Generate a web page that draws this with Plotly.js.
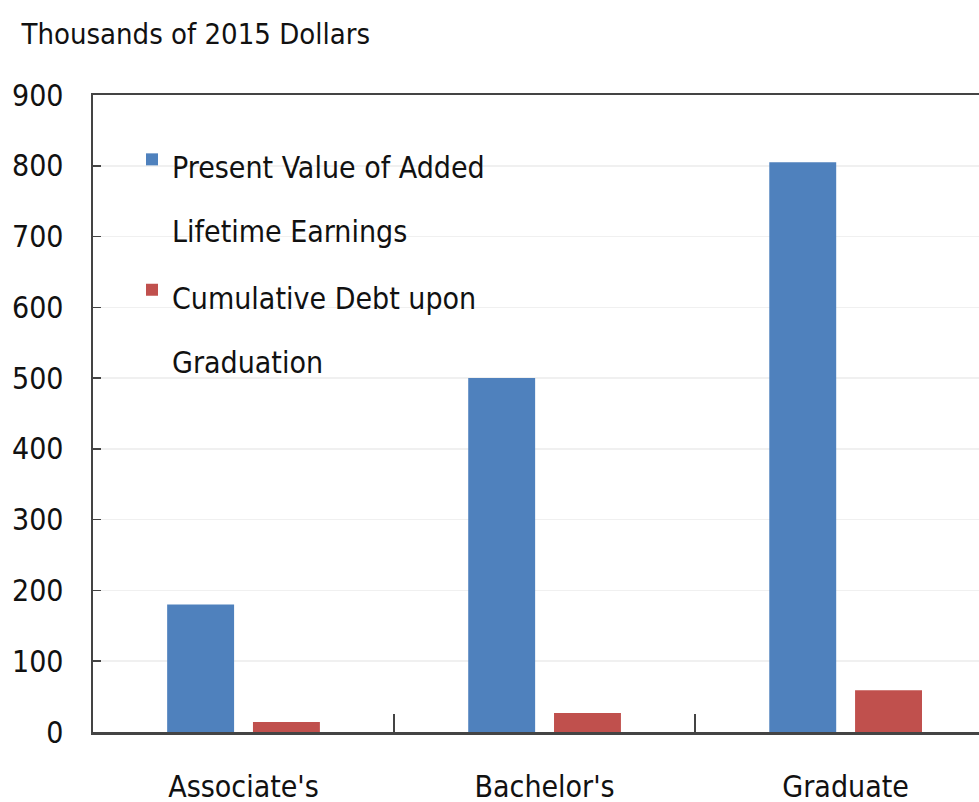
<!DOCTYPE html>
<html>
<head>
<meta charset="utf-8">
<script src="https://cdn.plot.ly/plotly-3.0.1.min.js"></script>
<style>
  html, body { margin: 0; padding: 0; background: #fff; }
  #chart { width: 979px; height: 802px; }
</style>
</head>
<body>
<div id="chart"></div>
<script>
const categories = ["Associate's", "Bachelor's", "Graduate"];
const earnings = [180, 500, 805];
const debt = [14, 27, 59];

const seriesNames = ['Present Value of Added<br>Lifetime Earnings', 'Cumulative Debt upon<br>Graduation'];
const yTicks = [0, 100, 200, 300, 400, 500, 600, 700, 800, 900];

const FONT = '"Liberation Sans Narrow", "DejaVu Sans Condensed", "Arial Narrow", sans-serif';

// wrap each legend line so text is 30px while line spacing follows the bigger legend font
function legendText(s) {
    return s.split('<br>').map(l => '<span style="font-size:30px">' + l + '</span>').join('<br>');
}

const earningsTrace = {
    x: categories,
    y: earnings,
    type: 'bar',
    name: legendText(seriesNames[0]),
    marker: {color: '#4F81BD'},
    hoverinfo: 'y'
};

const debtTrace = {
    x: categories,
    y: debt,
    type: 'bar',
    name: legendText(seriesNames[1]),
    marker: {color: '#C0504D'},
    hoverinfo: 'y'
};

const layout = {
    width: 979,
    height: 802,
    margin: {l: 93, r: 0, t: 95, b: 70},
    paper_bgcolor: '#ffffff',
    plot_bgcolor: '#ffffff',
    font: {family: FONT, size: 30, color: '#111'},
    barmode: 'group',
    bargap: 0.43,
    bargroupgap: 0.22,
    title: {
        text: 'Thousands of 2015 Dollars',
        font: {family: FONT, size: 29, color: '#111'},
        xref: 'container', yref: 'container',
        x: 0.022, xanchor: 'left',
        y: 0.958, yanchor: 'middle'
    },
    xaxis: {
        type: 'category',
        range: [-0.5, 2.443],
        showline: true,
        linecolor: '#444',
        linewidth: 2.5,
        mirror: true,
        ticks: 'inside',
        tickson: 'boundaries',
        ticklen: 18,
        tickwidth: 1.5,
        tickcolor: '#444',
        ticklabelstandoff: 26,
        showgrid: false,
        zeroline: false,
        tickfont: {family: FONT, size: 30, color: '#111'}
    },
    yaxis: {
        range: [0, 900],
        tickvals: yTicks,
        showline: true,
        linecolor: '#444',
        linewidth: 2.5,
        ticks: 'inside',
        ticklen: 8,
        tickwidth: 1.5,
        tickcolor: '#444',
        ticklabelstandoff: 21,
        showgrid: true,
        gridcolor: '#f0f0f0',
        gridwidth: 1.5,
        zeroline: false,
        tickfont: {family: FONT, size: 30, color: '#111'}
    },
    showlegend: true,
    legend: {
        x: (132 - 93) / 886,
        xanchor: 'left',
        y: 1 - (121 - 95) / 637,
        yanchor: 'top',
        valign: 'top',
        bgcolor: 'rgba(0,0,0,0)',
        borderwidth: 0,
        font: {family: FONT, size: 49, color: '#111'},
        tracegroupgap: 0
    }
};

Plotly.newPlot('chart', [earningsTrace, debtTrace], layout, {displayModeBar: false, staticPlot: true});
</script>
</body>
</html>
